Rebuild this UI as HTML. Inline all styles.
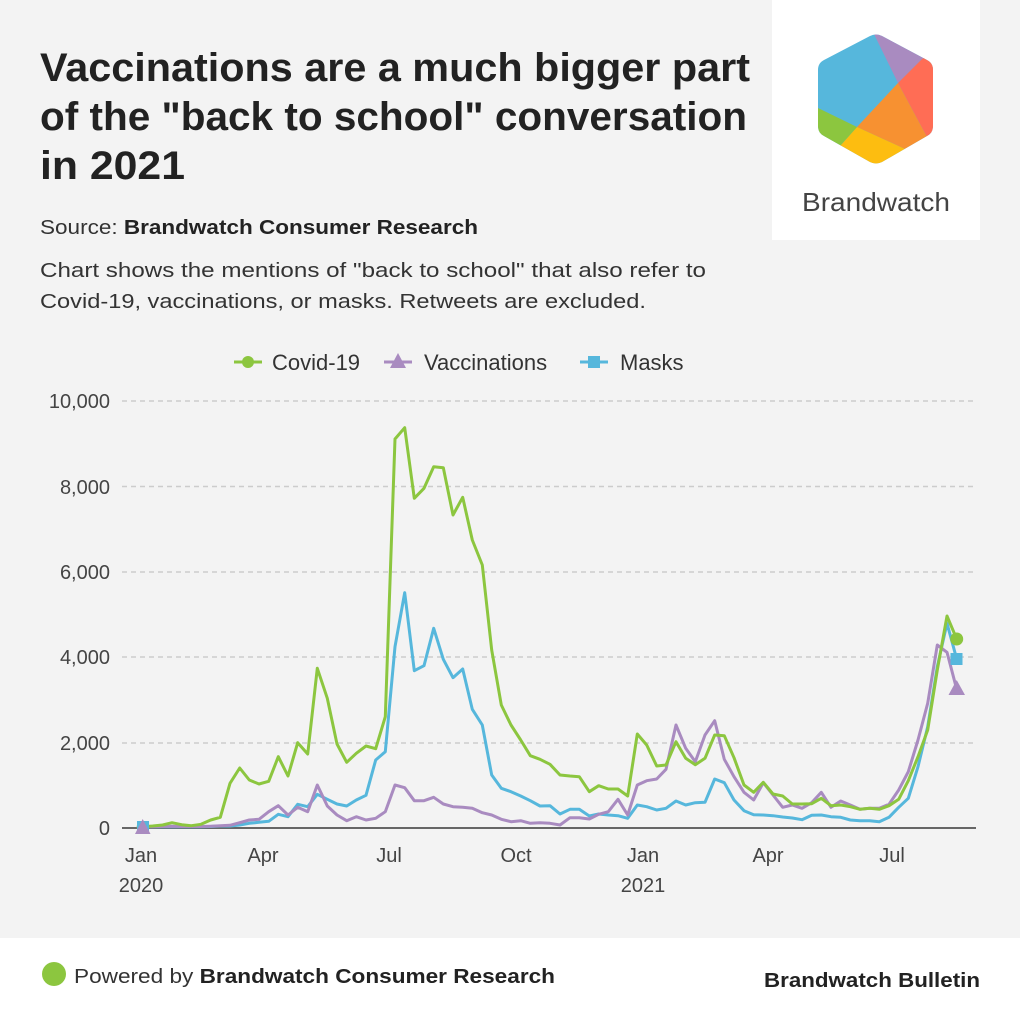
<!DOCTYPE html>
<html><head><meta charset="utf-8"><style>html,body{margin:0;padding:0;background:#f3f3f3}svg{display:block}</style></head>
<body>
<svg width="1020" height="1020" viewBox="0 0 1020 1020" xmlns="http://www.w3.org/2000/svg" font-family="'Liberation Sans', sans-serif">
<rect width="1020" height="1020" fill="#f3f3f3"/>
<rect x="0" y="938" width="1020" height="82" fill="#fff"/>
<rect x="772" y="0" width="208" height="240" fill="#fff"/>
<defs><clipPath id="hx"><path d="M870,36 Q876,33 882,36 L927,60 Q933,63 933,70 L933,126 Q933,133 927,136 L882,162 Q876,165 870,162 L824,136 Q818,133 818,126 L818,70 Q818,63 824,60 Z"/></clipPath></defs>
<g clip-path="url(#hx)">
<rect x="810" y="28" width="130" height="142" fill="#56b7dc"/>
<polygon points="872,30 940,30 940,59 922,59 898,83" fill="#a98bc0"/>
<polygon points="922,59 940,50 940,150 927,137 898,83" fill="#ff6d55"/>
<polygon points="898,83 927,137 905,149 857,127" fill="#f79131"/>
<polygon points="857,127 905,149 940,150 876,170 840,146" fill="#fdbd10"/>
<polygon points="810,108 818,108 857,127 840,146 810,150" fill="#8cc63f"/>
</g>
<text x="802" y="211" font-size="26" fill="#444" textLength="148" lengthAdjust="spacingAndGlyphs">Brandwatch</text>
<g font-weight="bold" font-size="40" fill="#222">
<text x="40" y="81" textLength="710" lengthAdjust="spacingAndGlyphs">Vaccinations are a much bigger part</text>
<text x="40" y="130" textLength="707" lengthAdjust="spacingAndGlyphs">of the "back to school" conversation</text>
<text x="40" y="179" textLength="145" lengthAdjust="spacingAndGlyphs">in 2021</text>
</g>
<text x="40" y="234" font-size="20" fill="#333" textLength="438" lengthAdjust="spacingAndGlyphs">Source: <tspan font-weight="bold" fill="#222">Brandwatch Consumer Research</tspan></text>
<text x="40" y="277" font-size="20" fill="#333" textLength="666" lengthAdjust="spacingAndGlyphs">Chart shows the mentions of "back to school" that also refer to</text>
<text x="40" y="308" font-size="20" fill="#333" textLength="606" lengthAdjust="spacingAndGlyphs">Covid-19, vaccinations, or masks. Retweets are excluded.</text>
<g font-size="22" fill="#333">
<line x1="234" y1="362" x2="262" y2="362" stroke="#8cc63f" stroke-width="3"/><circle cx="248" cy="362" r="6" fill="#8cc63f"/>
<text x="272" y="370">Covid-19</text>
<line x1="384" y1="362" x2="412" y2="362" stroke="#a98bc0" stroke-width="3"/><polygon points="398,353 406,368 390,368" fill="#a98bc0"/>
<text x="424" y="370">Vaccinations</text>
<line x1="580" y1="362" x2="608" y2="362" stroke="#56b7dc" stroke-width="3"/><rect x="588" y="356" width="12" height="12" fill="#56b7dc"/>
<text x="620" y="370">Masks</text>
</g>
<g stroke="#ccc" stroke-width="1.5" stroke-dasharray="5,4">
<line x1="122" y1="401" x2="976" y2="401"/>
<line x1="122" y1="486.5" x2="976" y2="486.5"/>
<line x1="122" y1="572" x2="976" y2="572"/>
<line x1="122" y1="657" x2="976" y2="657"/>
<line x1="122" y1="743" x2="976" y2="743"/>
</g>
<line x1="122" y1="828" x2="976" y2="828" stroke="#666" stroke-width="2"/>
<g font-size="20" fill="#444" text-anchor="end">
<text x="110" y="408">10,000</text><text x="110" y="494">8,000</text><text x="110" y="579">6,000</text><text x="110" y="664">4,000</text><text x="110" y="750">2,000</text><text x="110" y="835">0</text>
</g>
<g font-size="20" fill="#444" text-anchor="middle">
<text x="141" y="862">Jan</text><text x="141" y="892">2020</text>
<text x="263" y="862">Apr</text><text x="389" y="862">Jul</text><text x="516" y="862">Oct</text>
<text x="643" y="862">Jan</text><text x="643" y="892">2021</text>
<text x="768" y="862">Apr</text><text x="892" y="862">Jul</text>
</g>
<g fill="none" stroke-width="3" stroke-linejoin="round">
<polyline stroke="#56b7dc" points="142.7,826.7 152.7,826.7 162.7,826.7 172,826.7 181.7,826.7 191.3,826.7 201,826.7 210.7,826.5 220.3,826 230,826 239.7,825 249.3,823.3 259,822.3 268.7,821.3 278.3,814.3 288,816.7 297.7,804.3 307.7,806.7 317.3,794.3 327.3,799.3 337,804 346.7,806 356.3,800 366,795.3 375.7,760 385.3,751.7 395,646.7 404.7,592.7 414.3,670.7 424,665.7 433.7,628.3 443.3,659.3 453,677.7 462.7,669 472.3,709.3 482.3,725 491.7,775 501.3,788.3 511,791.7 520.7,796 530.3,800.7 540,806 550,805.7 560,814 570,809.3 579.3,809.3 589.3,816 598.7,814 608.3,815 618,815.7 627.7,818.3 637.3,805 646.7,806.7 656.7,810 666,808.3 676,801 685.7,805 695.3,802.7 705,802.3 714.7,779 724.3,782.7 734,800 744,810.7 753.7,814.7 763.3,815 773,815.7 782.7,817 792.3,818 802,819.7 811.7,815.3 821.3,815 831,816.7 840.7,817.3 850.3,820 860,820.7 869.7,820.7 879.3,821.7 889,817.3 898.7,807.3 908.3,798.3 918,766.7 927.7,726.7 937.3,666.7 947,623.3 956.7,659"/>
<polyline stroke="#a98bc0" points="142.7,826.7 152.7,826.7 162.7,826.5 172,826.3 181.7,826.5 191.3,826.5 201,826.5 210.7,826.2 220.3,825.7 230,825.3 239.7,822.7 249.3,820 259,819.3 268.7,811.7 278.3,805.7 288,815 297.7,807.3 307.7,811.7 317.3,785 327.3,806 337,815 346.7,820.7 356.3,816.7 366,820 375.7,818.3 385.3,811.7 395,785 404.7,787.7 414.3,800.7 424,800.7 433.7,797.3 443.3,804 453,806.7 462.7,807.3 472.3,808.3 482.3,812.7 491.7,815 501.3,819.3 511,821.7 520.7,820.7 530.3,823.3 540,822.7 550,823.3 560,825 570,817.7 579.3,817.7 589.3,819 598.7,814.3 608.3,811.7 618,799.3 627.7,815 637.3,785 646.7,780.7 656.7,779 666,769.3 676,725 685.7,748.3 695.3,761.7 705,735 714.7,720.7 724.3,759.3 734,776.7 744,792.3 753.7,800 763.3,782.7 773,795 782.7,807.3 792.3,805 802,808.3 811.7,802.7 821.3,792.3 831,807.3 840.7,801 850.3,805 860,809.3 869.7,808.3 879.3,808.3 889,804.3 898.7,790 908.3,771.7 918,740 927.7,703.3 937.3,645 947,652.3 956.7,689.3"/>
<polyline stroke="#8cc63f" points="142.7,826.7 152.7,826 162.7,825 172,822.7 181.7,824.7 191.3,825.7 201,824.3 210.7,820 220.3,817.3 230,783.3 239.7,768 249.3,780 259,784 268.7,781.3 278.3,756.7 288,776 297.7,742.7 307.7,754 317.3,668.3 327.3,698.3 337,744 346.7,762.3 356.3,753.3 366,746 375.7,748.7 385.3,716.7 395,439 404.7,427.7 414.3,498.3 424,488.3 433.7,466.7 443.3,467.7 453,515 462.7,497.3 472.3,540 482.3,565 491.7,650 501.3,705 511,725 520.7,740 530.3,755.7 540,759.3 550,764.3 560,775 570,776 579.3,776.7 589.3,791.7 598.7,785.7 608.3,789 618,789 627.7,796 637.3,734 646.7,745 656.7,766 666,765 676,741.7 685.7,758.3 695.3,764.7 705,758.3 714.7,735 724.3,735.7 734,757.7 744,785 753.7,792.3 763.3,782.3 773,794 782.7,796 792.3,804 802,804 811.7,803.7 821.3,798.3 831,805.7 840.7,805 850.3,806.7 860,809.3 869.7,808.3 879.3,809.3 889,805.7 898.7,799.3 908.3,780.7 918,756.7 927.7,730 937.3,670 947,616 956.7,639"/>
</g>
<circle cx="142.7" cy="827" r="6" fill="#8cc63f"/>
<rect x="137" y="821" width="12" height="12" fill="#56b7dc"/>
<polygon points="142.7,819 150.5,834 135,834" fill="#a98bc0"/>
<circle cx="956.7" cy="639" r="6.5" fill="#8cc63f"/>
<rect x="950.5" y="653" width="12" height="12" fill="#56b7dc"/>
<polygon points="956.7,680 965,695 948.5,695" fill="#a98bc0"/>
<circle cx="54" cy="974" r="12" fill="#8cc63f"/>
<text x="74" y="983" font-size="20" fill="#333" textLength="481" lengthAdjust="spacingAndGlyphs">Powered by <tspan font-weight="bold" fill="#222">Brandwatch Consumer Research</tspan></text>
<text x="980" y="987" font-size="20" font-weight="bold" fill="#222" text-anchor="end" textLength="216" lengthAdjust="spacingAndGlyphs">Brandwatch Bulletin</text>
</svg>
</body></html>
